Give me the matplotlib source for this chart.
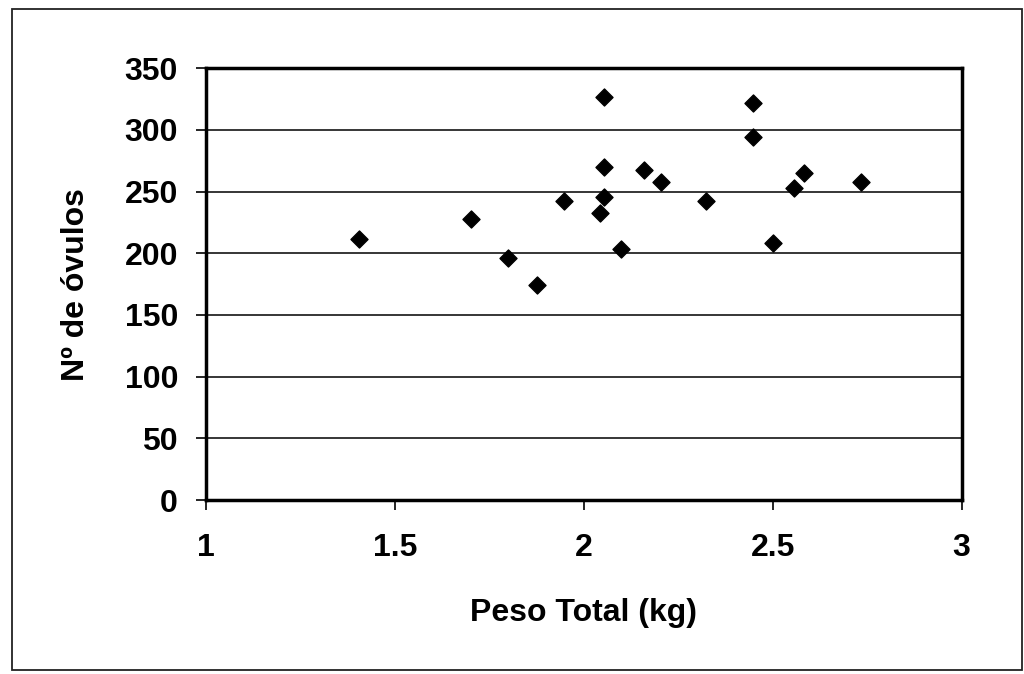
import matplotlib
matplotlib.use('Agg')
import matplotlib.pyplot as plt
from matplotlib.patches import Rectangle

# Datos
peso_total = [1.405, 1.703, 1.800, 1.876, 1.948, 2.044, 2.054, 2.054, 2.054, 2.098,
              2.160, 2.204, 2.325, 2.449, 2.449, 2.502, 2.556, 2.583, 2.733]
n_ovulos = [211.3, 228.0, 196.1, 174.0, 242.5, 232.8, 245.8, 270.1, 326.3, 203.6,
            267.4, 257.5, 242.5, 321.5, 293.9, 208.5, 252.6, 264.7, 257.5]

x_ticks = [1, 1.5, 2, 2.5, 3]
x_tick_labels = ['1', '1.5', '2', '2.5', '3']
y_ticks = [0, 50, 100, 150, 200, 250, 300, 350]

plt.rcParams['font.family'] = ['Liberation Sans', 'DejaVu Sans']
plt.rcParams['font.weight'] = 'bold'

fig = plt.figure(figsize=(10.24, 6.74), dpi=100)
ax = fig.add_axes([0.201, 0.258, 0.738, 0.641])

# marco exterior
fig.patches.append(Rectangle((0.012, 0.006), 0.986, 0.981, transform=fig.transFigure,
                             fill=False, edgecolor='#222222', linewidth=1.3))

ax.scatter(peso_total, n_ovulos, marker='D', s=75, color='black', zorder=3)

ax.set_xlim(1, 3)
ax.set_ylim(0, 350)
ax.set_xticks(x_ticks)
ax.set_xticklabels(x_tick_labels)
ax.set_yticks(y_ticks)
ax.yaxis.grid(True, color='black', linewidth=1.1)
ax.set_axisbelow(True)

for s in ax.spines.values():
    s.set_linewidth(2.5)
ax.tick_params(axis='both', labelsize=23, direction='out', length=7, width=1.2)
ax.tick_params(axis='x', pad=17)
ax.tick_params(axis='y', pad=13)

ax.set_xlabel('Peso Total (kg)', fontsize=23, fontweight='bold', labelpad=25)
ax.set_ylabel('Nº de óvulos', fontsize=23, fontweight='bold', labelpad=24)

fig.savefig('out.png', dpi=100)
